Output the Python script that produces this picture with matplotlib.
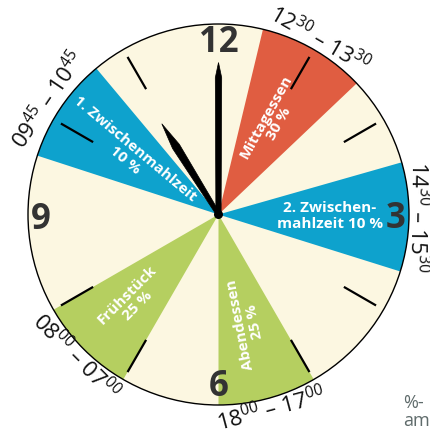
import numpy as np
import matplotlib.pyplot as plt
from matplotlib.patches import Wedge, Circle, Polygon

plt.rcParams['font.family'] = ['Open Sans', 'DejaVu Sans']

# meals: position on the 12 h clock face (hours), label, colour
meal_names  = ["Frühstück\n25 %", "1. Zwischenmahlzeit\n10 %", "Mittagessen\n30 %",
               "2. Zwischen-\nmahlzeit 10 %", "Abendessen\n25 %"]
meal_start  = [7.0, 9.6, 0.45, 2.47, 5.0]
meal_end    = [8.0, 10.67, 1.55, 3.58, 6.0]
meal_colors = ["#b5cf60", "#0ea2cd", "#e05d41", "#0ea2cd", "#b5cf60"]
time_labels = [r"$\mathregular{08^{00}}$ – $\mathregular{07^{00}}$",
               r"$\mathregular{09^{45}}$ – $\mathregular{10^{45}}$",
               r"$\mathregular{12^{30}}$ – $\mathregular{13^{30}}$",
               r"$\mathregular{14^{30}}$ – $\mathregular{15^{30}}$",
               r"$\mathregular{18^{00}}$ – $\mathregular{17^{00}}$"]

hour_numbers = ["12", "3", "6", "9"]
hour_number_pos = [0, 3, 6, 9]
tick_hours = [1, 2, 4, 5, 7, 8, 10, 11]
clock_time = (11, 0)

# layout (pixels)
cx, cy, R = 218.5, 214.5, 190.5
label_r = [0.64, 0.56, 0.57, 0.585, 0.59]
label_rot = [45, -40, 61, 0, 101]
time_r = [1.06, 1.075, 1.06, 1.045, 1.06]


def pt(theta, r):
    t = np.deg2rad(theta)
    return cx + r * np.sin(t), cy - r * np.cos(t)


fig = plt.figure(figsize=(4.30, 4.37), dpi=100)
ax = fig.add_axes([0, 0, 1, 1])
ax.set_xlim(0, 430)
ax.set_ylim(437, 0)
ax.set_aspect('equal')
ax.axis('off')

ax.add_patch(Circle((cx, cy), R, facecolor="#fcf7e1", edgecolor="none", zorder=1))

for name, s, e, c, lr, rot, tl, tr in zip(meal_names, meal_start, meal_end, meal_colors,
                                          label_r, label_rot, time_labels, time_r):
    a1, a2 = s * 30, e * 30
    ax.add_patch(Wedge((cx, cy), R, a1 - 90, a2 - 90, facecolor=c, edgecolor="none", zorder=2))
    mid = (a1 + a2) / 2
    x, y = pt(mid, lr * R)
    ax.text(x, y, name, color="white", fontsize=11, fontweight="bold", rotation=rot,
            ha="center", va="center", multialignment="center", linespacing=1.1,
            rotation_mode="anchor", zorder=5)
    trot = -mid if (mid < 100 or mid > 270) else 180 - mid
    x, y = pt(mid, tr * R)
    ax.text(x, y, tl, color="#111111", fontsize=16, rotation=trot, ha="center", va="center",
            rotation_mode="anchor", zorder=5)

ax.add_patch(Circle((cx, cy), R, facecolor="none", edgecolor="black", lw=1.0, zorder=3))

for h in tick_hours:
    x1, y1 = pt(h * 30, 0.76 * R)
    x2, y2 = pt(h * 30, 0.955 * R)
    ax.plot([x1, x2], [y1, y2], color="black", lw=1.6, solid_capstyle="butt", zorder=4)

num_r = [172, 177, 172, 178]
for txt, h, nr in zip(hour_numbers, hour_number_pos, num_r):
    x, y = pt(h * 30, nr)
    if h in (3, 9):
        y += 5
    ax.text(x, y, txt, color="#333333", fontsize=25, fontweight="bold",
            ha="center", va="center", zorder=5)

# hands
def hand(theta, length, wmax, wbase, pos):
    t = np.deg2rad(theta)
    d = np.array([np.sin(t), -np.cos(t)])
    n = np.array([np.cos(t), np.sin(t)])
    c = np.array([cx, cy])
    pts = [c + n * wbase, c + d * length * pos + n * wmax, c + d * length,
           c + d * length * pos - n * wmax, c - n * wbase]
    ax.add_patch(Polygon(pts, closed=True, facecolor="black", edgecolor="black",
                         lw=0.5, zorder=6))

hour_angle = (clock_time[0] % 12) * 30 + clock_time[1] * 0.5
minute_angle = clock_time[1] * 6
hand(hour_angle - 2, 107, 4.0, 2.0, 0.75)
hand(minute_angle, 152, 3.2, 2.6, 0.9)
ax.add_patch(Circle((cx, cy), 4.5, facecolor="black", zorder=7))

ax.text(403, 403, "%-", color="#5f6b6b", fontsize=13, ha="left", va="center")
ax.text(403, 421, "am", color="#5f6b6b", fontsize=13, ha="left", va="center")

fig.savefig("out.png", dpi=100)
